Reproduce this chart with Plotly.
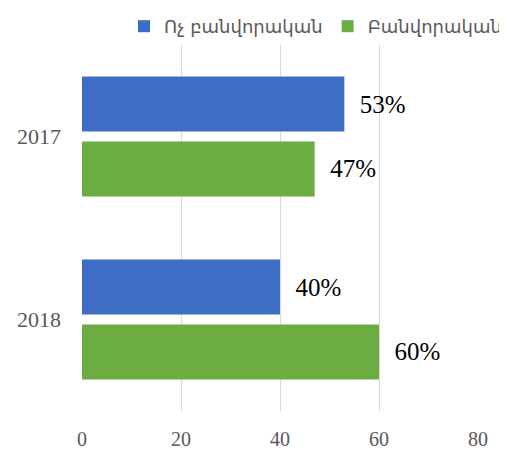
import plotly.graph_objects as go

years = ["2017", "2018"]
non_worker = [53, 40]
worker = [47, 60]
series_names = ["Ոչ բանվորական", "Բանվորական"]
x_ticks = [0, 20, 40, 60, 80]

label_font = dict(family="Liberation Serif", size=25, color="#000000")

fig = go.Figure()
fig.add_trace(go.Bar(
    y=years, x=non_worker, orientation="h", name=series_names[0],
    marker=dict(color="#3E6DC6", line=dict(width=0)),
    text=[f"{v}%" for v in non_worker], textposition="outside",
    texttemplate="  %{text}", textfont=label_font, cliponaxis=False,
))
fig.add_trace(go.Bar(
    y=years, x=worker, orientation="h", name=series_names[1],
    marker=dict(color="#6BAD43", line=dict(width=0)),
    text=[f"{v}%" for v in worker], textposition="outside",
    texttemplate="  %{text}", textfont=label_font, cliponaxis=False,
))

# page body has an 8px default margin, so the figure is 8px smaller
fig.update_layout(
    width=499, height=445,
    margin=dict(l=74, r=29, t=37, b=42, autoexpand=False),
    paper_bgcolor="white", plot_bgcolor="white",
    barmode="group", bargap=0.29, bargroupgap=0.154,
    font=dict(family="Liberation Serif", color="#595959"),
    legend=dict(
        orientation="h", xref="container", yref="container",
        x=1.0, xanchor="right", y=1.0, yanchor="top",
        font=dict(family="DejaVu Sans", size=18, color="#595959"),
        traceorder="normal", itemwidth=30,
    ),
    xaxis=dict(
        range=[0, 80], tickvals=x_ticks, showgrid=True, gridcolor="#D9D9D9",
        gridwidth=1, zeroline=False, showline=False, automargin=False,
        tickfont=dict(family="Liberation Serif", size=20, color="#595959"),
        ticklabelstandoff=14,
    ),
    yaxis=dict(
        autorange="reversed", showgrid=False, zeroline=False,
        showline=False, automargin=False,
        tickfont=dict(family="Liberation Serif", size=22, color="#595959"),
        ticklabelstandoff=20,
    ),
    showlegend=True,
)

fig.write_html("out.html")
